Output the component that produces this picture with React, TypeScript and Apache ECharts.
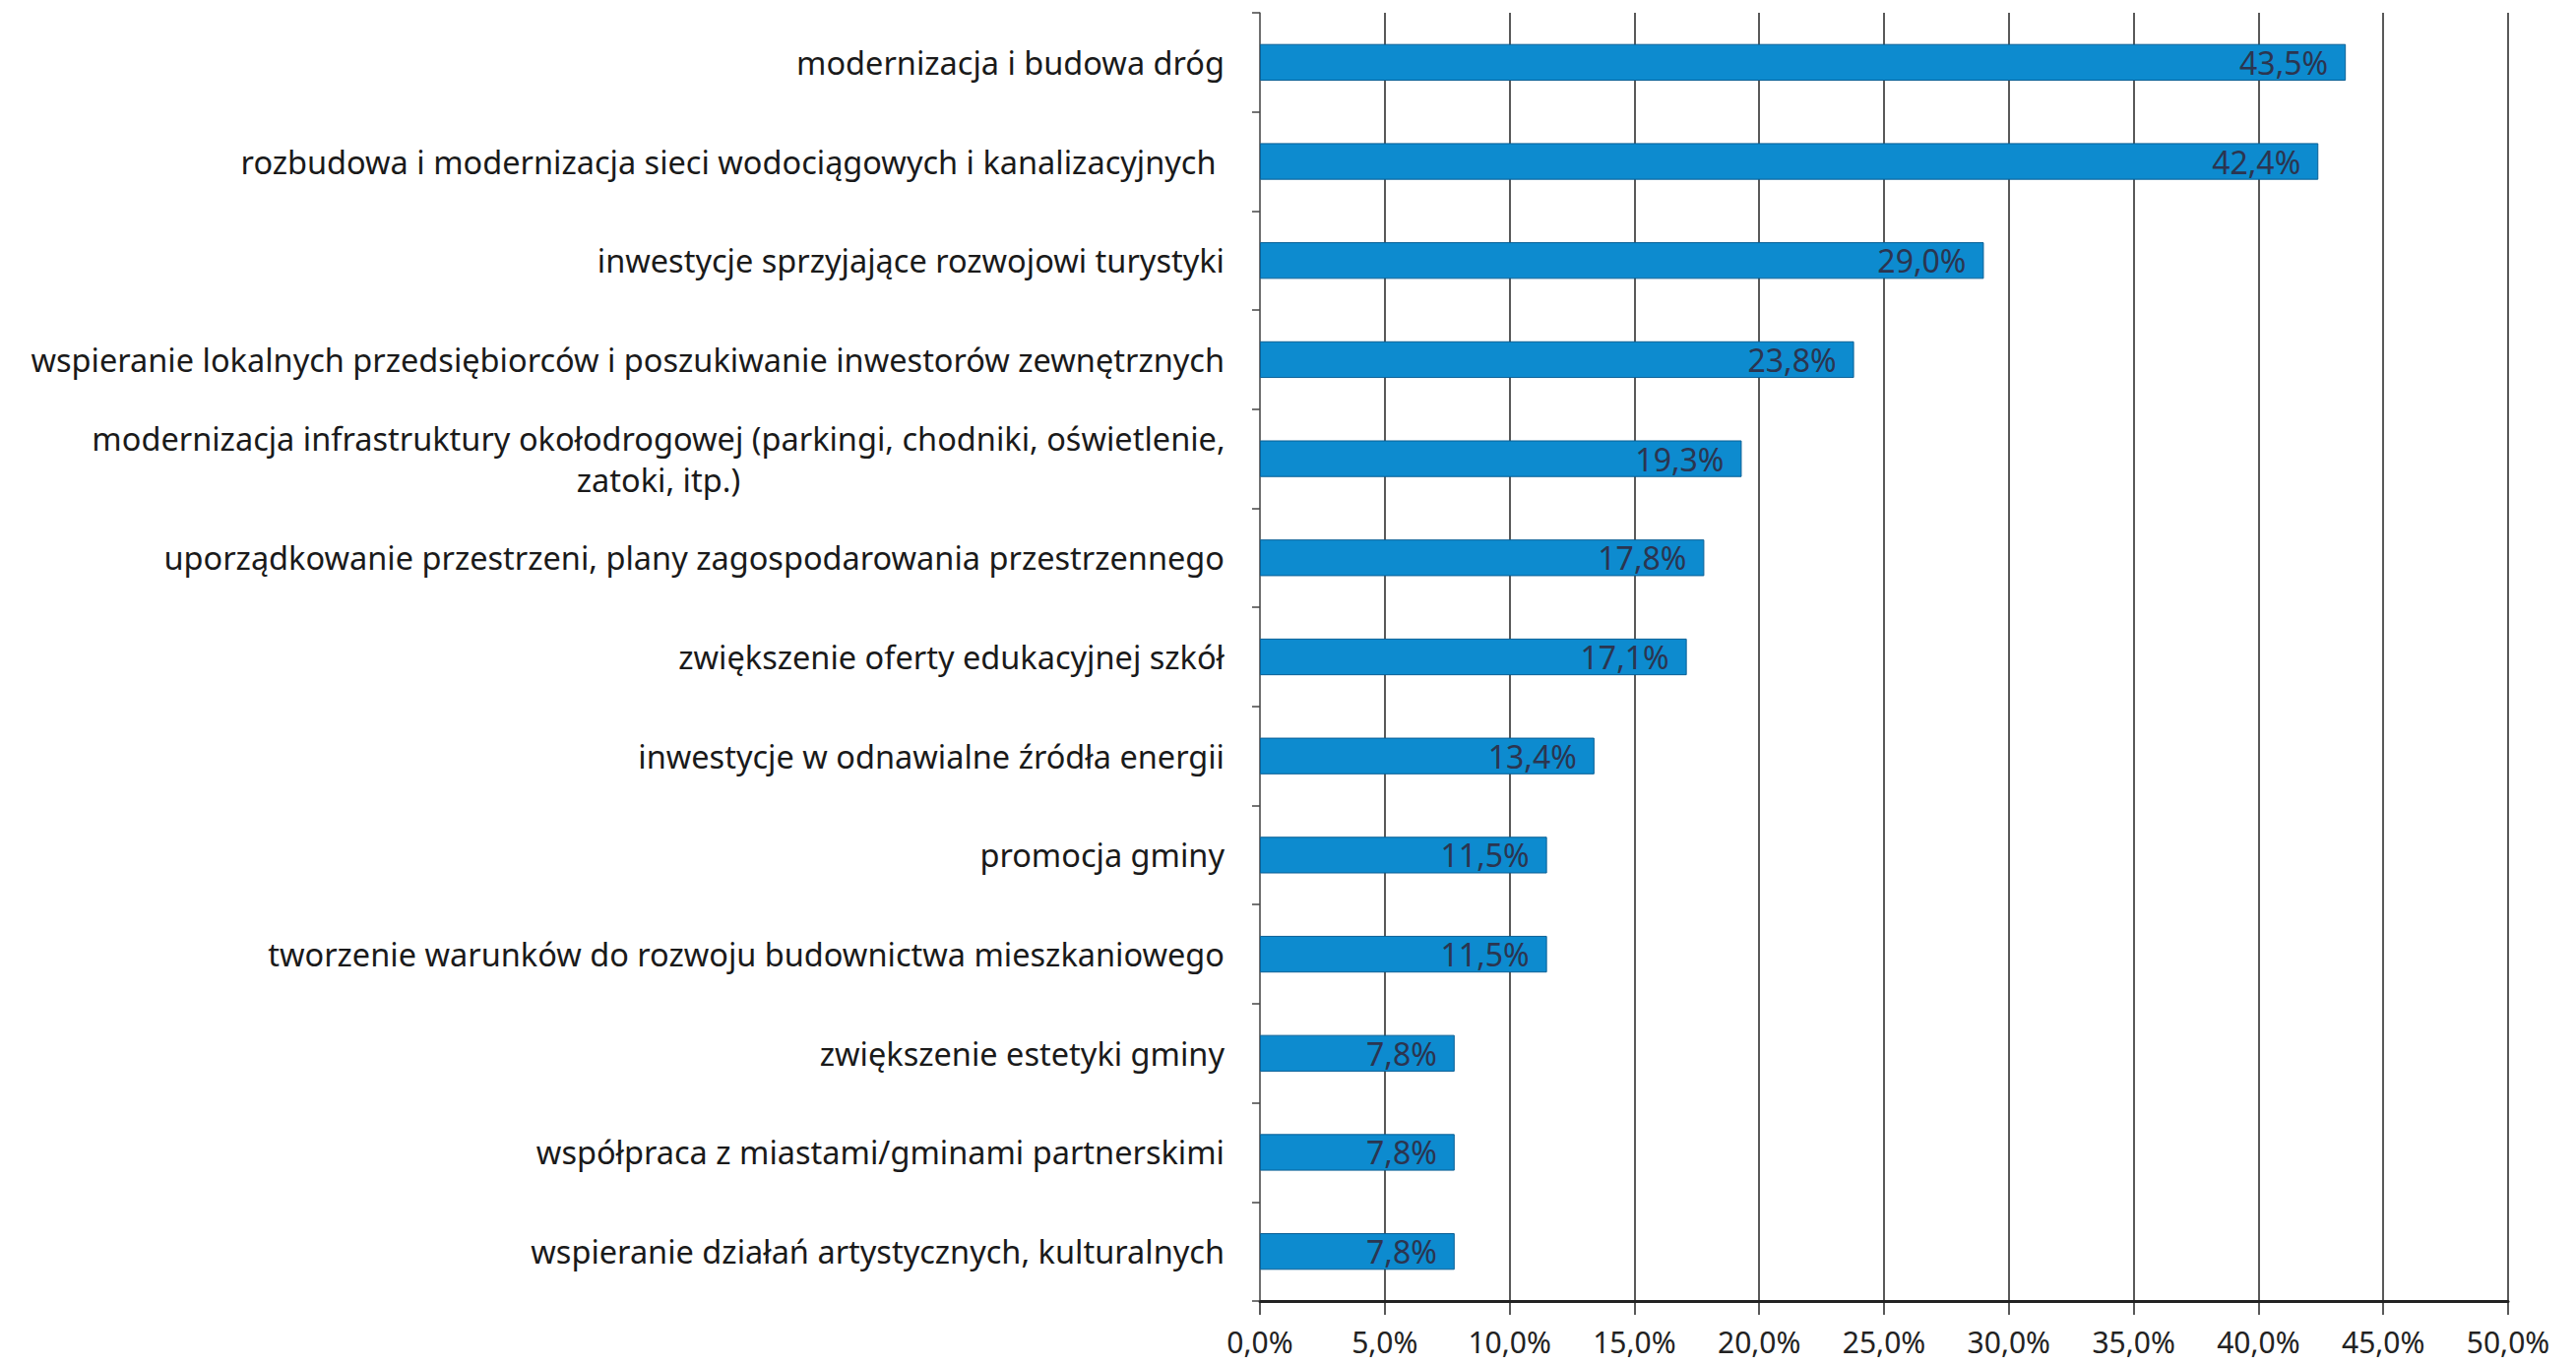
import React, { useEffect, useRef } from "react";
import * as echarts from "echarts";

const categories = [
  "modernizacja i budowa dróg",
  "rozbudowa i modernizacja sieci wodociągowych i kanalizacyjnych ",
  "inwestycje sprzyjające rozwojowi turystyki",
  "wspieranie lokalnych przedsiębiorców i poszukiwanie inwestorów zewnętrznych",
  "modernizacja infrastruktury okołodrogowej (parkingi, chodniki, oświetlenie,\nzatoki, itp.)",
  "uporządkowanie przestrzeni, plany zagospodarowania przestrzennego",
  "zwiększenie oferty edukacyjnej szkół",
  "inwestycje w odnawialne źródła energii",
  "promocja gminy",
  "tworzenie warunków do rozwoju budownictwa mieszkaniowego",
  "zwiększenie estetyki gminy",
  "współpraca z miastami/gminami partnerskimi",
  "wspieranie działań artystycznych, kulturalnych",
];

const values = [43.5, 42.4, 29.0, 23.8, 19.3, 17.8, 17.1, 13.4, 11.5, 11.5, 7.8, 7.8, 7.8];

const FONT = "'Noto Sans', sans-serif";

export default function App() {
  const ref = useRef<HTMLDivElement>(null);
  useEffect(() => {
    document.body.style.margin = "0";
    const chart = echarts.init(ref.current!, null, { renderer: "svg" });
    chart.setOption({
      animation: false,
      backgroundColor: "#ffffff",
      grid: { left: 1280, right: 69, top: 13, bottom: 64, containLabel: false, outerBoundsMode: "none" },
      xAxis: {
        type: "value",
        min: 0,
        max: 50,
        interval: 5,
        axisLine: { show: true, lineStyle: { color: "#222", width: 3 } },
        axisTick: { show: true, length: 14, lineStyle: { color: "#222", width: 1.5 } },
        splitLine: { show: true, lineStyle: { color: "#222", width: 1.5 } },
        axisLabel: {
          margin: 26,
          fontSize: 30,
          fontFamily: FONT,
          color: "#222",
          formatter: (v: number) => v.toFixed(1).replace(".", ",") + "%",
        },
      },
      yAxis: {
        type: "category",
        inverse: true,
        data: categories,
        axisLine: { show: true, lineStyle: { color: "#777", width: 1.5 } },
        axisTick: { show: true, length: 8, alignWithLabel: false, lineStyle: { color: "#444", width: 1.5 } },
        axisLabel: {
          margin: 36,
          fontSize: 32.5,
          fontFamily: FONT,
          color: "#1a1a1a",
          lineHeight: 42,
          align: "right",
          formatter: (v: string) => {
            if (v.indexOf("\n") >= 0) {
              const parts = v.split("\n");
              return parts.map((p) => "{c|" + p + "}").join("\n");
            }
            return v;
          },
          rich: {
            c: { width: 1150, align: "center", fontSize: 32.5, fontFamily: FONT, color: "#1a1a1a", lineHeight: 42 },
          },
        },
      },
      series: [
        {
          type: "bar",
          data: values,
          barWidth: "37%",
          itemStyle: { color: "#0d8bcf", borderColor: "#0a5f95", borderWidth: 1 },
          label: {
            show: true,
            position: "insideRight",
            distance: 18,
            fontSize: 32,
            fontFamily: FONT,
            color: "#2b3550",
            formatter: (p: any) => p.value.toFixed(1).replace(".", ",") + "%",
          },
        },
      ],
    });
    return () => chart.dispose();
  }, []);
  return <div ref={ref} style={{ width: 2617, height: 1386 }} />;
}
